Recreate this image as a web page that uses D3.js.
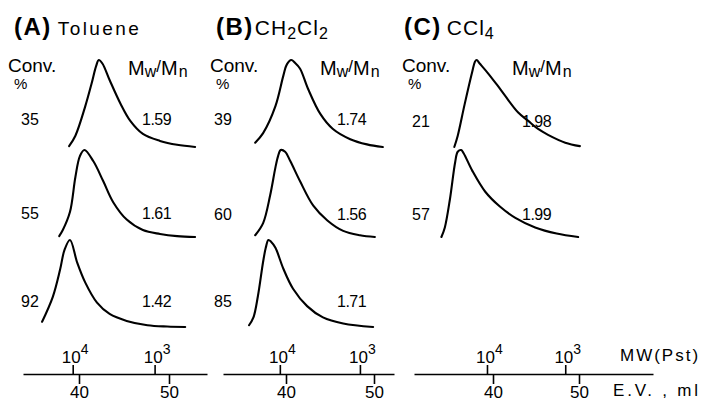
<!DOCTYPE html>
<html>
<head>
<meta charset="utf-8">
<script src="https://cdn.jsdelivr.net/npm/d3@7"></script>
<style>
  html, body { margin: 0; padding: 0; background: #fff; }
  svg { display: block; }
  text { font-family: "Liberation Sans", Arial, sans-serif; fill: #000; }
</style>
</head>
<body>
<svg id="chart" width="706" height="405"></svg>
<script>
// Solvent panels
const panelLetters = ["(A)", "(B)", "(C)"];
const solvents = [["Toluene"], ["CH", "2", "Cl", "2"], ["CCl", "4"]];

// Monomer conversion (%) for each trace, top to bottom
const convA = [35, 55, 92];
const convB = [39, 60, 85];
const convC = [21, 57];

// Polydispersity Mw/Mn for each trace
const pdiA = [1.59, 1.61, 1.42];
const pdiB = [1.74, 1.56, 1.71];
const pdiC = [1.98, 1.99];

// GPC traces: [elution volume (ml), relative RI response (peak = 100)]
const traceA1 = [[38.9,1],[39.6,13],[40.7,47],[41.4,73],[41.9,93],[42.2,100],[42.6,96],[43.4,77],[44.6,50],[45.7,30],[47.1,15],[49.0,7],[50.9,2.5],[52.9,0]];
const traceA2 = [[37.8,1],[38.2,8],[39.0,29],[39.6,69],[40.1,93],[40.6,100],[41.6,87],[42.7,64],[43.8,40],[45.3,20],[47.1,8],[49.0,3.5],[50.9,1],[52.9,0]];
const traceA3 = [[35.9,6],[37.1,35],[37.9,66],[38.4,89],[39.0,100],[39.8,74],[40.7,51],[42.0,28],[43.4,15],[45.3,7],[47.6,2],[49.8,0.5],[51.8,0]];
const traceB1 = [[36.5,5],[37.4,16],[38.8,47],[39.7,82],[40.1,95],[40.6,100],[41.0,97],[41.6,90],[42.5,67],[43.9,38],[45.3,21],[47.3,9],[49.2,3],[51.0,0]];
const traceB2 = [[36.5,2],[37.4,16],[38.2,48],[38.8,80],[39.1,93],[39.4,100],[39.9,98],[40.5,87],[41.6,64],[43.1,36],[44.7,19],[46.5,7],[48.4,2],[50.1,0]];
const traceB3 = [[35.8,2],[36.3,11],[36.8,35],[37.4,75],[37.7,91],[38.0,100],[38.3,98],[38.8,91],[39.7,67],[40.8,44],[42.4,24],[44.2,11],[46.5,4],[49.9,0]];
const traceC1 = [[35.5,0],[35.9,13],[36.7,49],[37.6,87],[37.9,98],[38.1,100],[38.45,96],[39.4,85],[40.5,71],[41.4,59],[42.9,40],[44.1,30],[45.2,21],[46.4,14],[48.4,5],[50.1,1]];
const traceC2 = [[34.0,0],[34.4,11],[35.0,44],[35.6,86],[35.9,98],[36.3,100],[36.6,96],[37.6,76],[39.1,52],[40.8,35],[42.6,22],[44.9,11],[47.4,4],[49.9,0]];

// Axis tick values
const evTicks = [40, 50];
const mwTicks = [1e4, 1e3];
const mwTickEV = [39.3, 48.4];   // elution volume of the polystyrene calibration marks

const panels = [
  { letter: panelLetters[0], solvent: solvents[0], conv: convA, pdi: pdiA, traces: [traceA1, traceA2, traceA3],
    ev: [79, 169], line: [23, 207], titleX: 14, convX: 30, convLabelX: 8, pdiX: 142, mwnX: 128, labelY: [125, 219, 307] },
  { letter: panelLetters[1], solvent: solvents[1], conv: convB, pdi: pdiB, traces: [traceB1, traceB2, traceB3],
    ev: [286, 374], line: [223, 394], titleX: 216, convX: 223, convLabelX: 210, pdiX: 337, mwnX: 320, labelY: [125, 220, 307] },
  { letter: panelLetters[2], solvent: solvents[2], conv: convC, pdi: pdiC, traces: [traceC1, traceC2],
    ev: [493, 579], line: [414, 653], titleX: 404, convX: 421, convLabelX: 402, pdiX: 522, mwnX: 512, labelY: [127, 220] }
];

const rowBase = [147, 237, 327];
const peakPx = 87;
const axisY = 374;

const svg = d3.select("#chart");

panels.forEach((p, pi) => {
  const g = svg.append("g");

  // elution-volume scale for the panel
  const xEV = d3.scaleLinear().domain(evTicks).range(p.ev);

  // title
  const title = g.append("text").attr("x", p.titleX).attr("y", 35);
  title.append("tspan").text(p.letter).attr("font-size", 24).attr("font-weight", "bold").attr("letter-spacing", 1.5);
  if (pi === 0) {
    title.append("tspan").text(p.solvent[0]).attr("dx", 6).attr("font-size", 19).attr("letter-spacing", 2.4);
  } else {
    p.solvent.forEach((s, i) => {
      const t = title.append("tspan").text(s);
      if (i % 2 === 1) {
        t.attr("font-size", 16).attr("dy", 4).attr("letter-spacing", 1);
      } else {
        t.attr("font-size", 21).attr("dy", i === 0 ? 0 : -4).attr("letter-spacing", 1);
        if (i === 0) t.attr("dx", pi === 2 ? 5 : 1);
      }
    });
  }

  // column headers
  g.append("text").attr("x", p.convLabelX).attr("y", 72).attr("font-size", 19).text("Conv.");
  g.append("text").attr("x", p.convLabelX + 6).attr("y", 89).attr("font-size", 15).text("%");
  const mh = g.append("text").attr("x", p.mwnX).attr("y", 75).attr("font-size", 20);
  mh.append("tspan").text("M");
  mh.append("tspan").text("w").attr("font-size", 16).attr("dy", 2);
  mh.append("tspan").text("/").attr("font-size", 17).attr("dy", -5);
  mh.append("tspan").text("M").attr("font-size", 20).attr("dy", 3);
  mh.append("tspan").text("n").attr("font-size", 16).attr("dy", 2).attr("dx", 1);

  // traces
  p.traces.forEach((tr, ri) => {
    const y = d3.scaleLinear().domain([0, 100]).range([rowBase[ri], rowBase[ri] - peakPx]);
    const line = d3.line()
      .x(d => xEV(d[0]))
      .y(d => y(d[1]))
      .curve(d3.curveCatmullRom.alpha(0.5));
    g.append("path")
      .datum(tr)
      .attr("d", line)
      .attr("fill", "none")
      .attr("stroke", "#000")
      .attr("stroke-width", 2.1)
      .attr("stroke-linecap", "round")
      .attr("stroke-linejoin", "round");

    g.append("text").attr("x", p.convX).attr("y", p.labelY[ri])
      .attr("text-anchor", "middle").attr("font-size", 16).text(p.conv[ri]);
    g.append("text").attr("x", p.pdiX).attr("y", p.labelY[ri])
      .attr("font-size", 16).attr("letter-spacing", -0.5).text(d3.format(".2f")(p.pdi[ri]));
  });

  // elution volume axis (below the baseline)
  const evAxisScale = d3.scaleLinear()
    .domain([xEV.invert(p.line[0]), xEV.invert(p.line[1])])
    .range(p.line);
  const evAxis = g.append("g").attr("transform", `translate(0,${axisY})`)
    .call(d3.axisBottom(evAxisScale).tickValues(evTicks).tickSizeInner(10).tickSizeOuter(0).tickPadding(2));
  evAxis.select(".domain").attr("stroke-width", 1.6);
  evAxis.selectAll(".tick line").attr("stroke-width", 1.6);
  evAxis.selectAll(".tick text").attr("font-size", 17).attr("font-family", "Liberation Sans, Arial, sans-serif").attr("fill", "#000");

  // polystyrene molecular weight calibration (above the baseline)
  const mw = d3.scaleLog().domain(mwTicks).range(mwTickEV.map(xEV));
  const mwAxis = g.append("g").attr("transform", `translate(0,${axisY})`)
    .call(d3.axisTop(mw).tickValues(mwTicks).tickSizeInner(9).tickSizeOuter(0).tickFormat(""));
  mwAxis.select(".domain").remove();
  mwAxis.selectAll(".tick line").attr("stroke-width", 1.6);
  mwAxis.selectAll(".tick").each(function (d) {
    const t = d3.select(this).append("text")
      .attr("x", 2).attr("y", -11).attr("text-anchor", "middle")
      .attr("font-size", 17).attr("fill", "#000")
      .attr("font-family", "Liberation Sans, Arial, sans-serif");
    t.append("tspan").text("10");
    t.append("tspan").text(Math.round(Math.log10(d))).attr("font-size", 14).attr("dy", -9);
  });

  if (pi === 2) {
    g.append("text").attr("x", 620).attr("y", 361).attr("font-size", 17).attr("letter-spacing", 2).text("MW(Pst)");
    g.append("text").attr("x", 613).attr("y", 396).attr("font-size", 17).attr("letter-spacing", 2.8).text("E.V. , ml");
  }
});
</script>
</body>
</html>
